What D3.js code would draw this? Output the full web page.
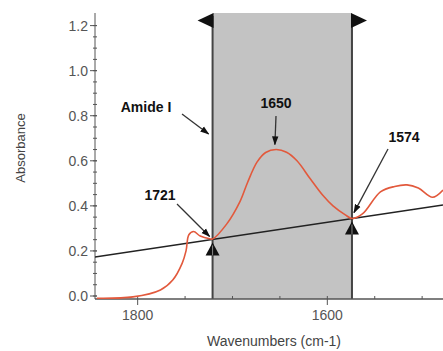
<!DOCTYPE html>
<html>
<head>
<meta charset="utf-8">
<script src="https://cdn.jsdelivr.net/npm/d3@7"></script>
<style>
  body { margin: 0; background: #fff; }
  svg { display: block; font-family: Arial, "Liberation Sans", sans-serif; }
</style>
</head>
<body>
<svg id="chart" width="443" height="351"></svg>
<script>
// spectrum
const wavenumber = [1843, 1805, 1776, 1763, 1753, 1749, 1746, 1741, 1734, 1724, 1721, 1706, 1692, 1684, 1674, 1665, 1654, 1643, 1632, 1618, 1605, 1594, 1581, 1574, 1563, 1544, 1529, 1516, 1504, 1489, 1478];
const absorbance = [-0.01, -0.004, 0.027, 0.071, 0.146, 0.2, 0.272, 0.286, 0.266, 0.254, 0.253, 0.32, 0.42, 0.505, 0.595, 0.637, 0.65, 0.638, 0.6, 0.52, 0.448, 0.4, 0.36, 0.344, 0.364, 0.462, 0.486, 0.493, 0.479, 0.438, 0.47];

// straight baseline drawn under the band
const baselineWn = [1845, 1478];
const baselineAbs = [0.173, 0.404];

const bandEdges = [1721, 1574];
const peakWn = 1650;
const yTicks = [0, 0.2, 0.4, 0.6, 0.8, 1.0, 1.2];
const xTicks = [1800, 1600];
const xMinor = [1750, 1700, 1650, 1550, 1500];

const svg = d3.select("#chart");
const pLeft = 95, pRight = 443, pTop = 13, pBottom = 299;

const x = d3.scaleLinear().domain([1845, 1478]).range([pLeft, pRight]);
const y = d3.scaleLinear().domain([0, 1.2]).range([296, 25.6]);

const baseAt = wn => baselineAbs[0] + (wn - baselineWn[0]) / (baselineWn[1] - baselineWn[0]) * (baselineAbs[1] - baselineAbs[0]);

svg.append("defs").call(defs => {
  defs.append("clipPath").attr("id", "plot")
    .append("rect").attr("x", pLeft).attr("y", pTop).attr("width", pRight - pLeft).attr("height", pBottom - pTop);
  defs.append("marker")
    .attr("id", "head")
    .attr("viewBox", "0 0 10 10")
    .attr("refX", 9).attr("refY", 5)
    .attr("markerWidth", 7).attr("markerHeight", 7)
    .attr("orient", "auto")
    .append("path").attr("d", "M0,1.5 L10,5 L0,8.5 Z").attr("fill", "#111");
});

// shaded band
svg.append("rect")
  .attr("x", x(bandEdges[0]))
  .attr("y", pTop)
  .attr("width", x(bandEdges[1]) - x(bandEdges[0]))
  .attr("height", pBottom - pTop)
  .attr("fill", "#c3c3c3");

svg.selectAll(".edge")
  .data(bandEdges)
  .enter()
  .append("line")
  .attr("x1", d => x(d)).attr("x2", d => x(d))
  .attr("y1", pTop + 3).attr("y2", pBottom)
  .attr("stroke", "#444")
  .attr("stroke-width", 2);

// top triangles
svg.append("path")
  .attr("d", `M${x(bandEdges[0]) + 1},13 L${x(bandEdges[0]) + 1},28 L${x(bandEdges[0]) - 15},20.5 Z`)
  .attr("fill", "#111");
svg.append("path")
  .attr("d", `M${x(bandEdges[1]) - 1},13 L${x(bandEdges[1]) - 1},28 L${x(bandEdges[1]) + 15},20.5 Z`)
  .attr("fill", "#111");

// axes
const gy = svg.append("g").attr("transform", `translate(${pLeft},0)`);
gy.append("line").attr("y1", pTop).attr("y2", pBottom).attr("stroke", "#555");
gy.selectAll(".minor")
  .data(d3.range(0, 1.25, 0.05))
  .enter()
  .append("line")
  .attr("x1", -2).attr("x2", 2)
  .attr("y1", d => y(d)).attr("y2", d => y(d))
  .attr("stroke", "#555");
gy.selectAll(".major")
  .data(yTicks)
  .enter()
  .append("line")
  .attr("x1", -5).attr("x2", 2)
  .attr("y1", d => y(d)).attr("y2", d => y(d))
  .attr("stroke", "#555");
gy.selectAll("text")
  .data(yTicks)
  .enter()
  .append("text")
  .attr("x", -7)
  .attr("y", d => y(d))
  .attr("dy", "0.35em")
  .attr("text-anchor", "end")
  .attr("font-size", 14)
  .attr("fill", "#555")
  .text(d3.format(".1f"));

const gx = svg.append("g").attr("transform", `translate(0,${pBottom})`);
gx.append("line").attr("x1", pLeft).attr("x2", pRight).attr("stroke", "#555").attr("stroke-width", 1.3);
gx.selectAll(".minor")
  .data(xMinor)
  .enter()
  .append("line")
  .attr("x1", d => x(d)).attr("x2", d => x(d))
  .attr("y1", -3).attr("y2", 0)
  .attr("stroke", "#555");
gx.selectAll(".major")
  .data(xTicks)
  .enter()
  .append("line")
  .attr("x1", d => x(d)).attr("x2", d => x(d))
  .attr("y1", -3).attr("y2", 6)
  .attr("stroke", "#555");
gx.selectAll("text")
  .data(xTicks)
  .enter()
  .append("text")
  .attr("x", d => x(d))
  .attr("y", 21)
  .attr("text-anchor", "middle")
  .attr("font-size", 14)
  .attr("fill", "#555")
  .text(d => d);

svg.append("text")
  .attr("x", 274).attr("y", 346)
  .attr("text-anchor", "middle")
  .attr("font-size", 14)
  .attr("fill", "#444")
  .text("Wavenumbers (cm-1)");

svg.append("text")
  .attr("transform", "translate(25,148) rotate(-90)")
  .attr("text-anchor", "middle")
  .attr("font-size", 13)
  .attr("fill", "#444")
  .text("Absorbance");

// spectrum + baseline
const plot = svg.append("g").attr("clip-path", "url(#plot)");
plot.append("line")
  .attr("x1", x(baselineWn[0])).attr("y1", y(baselineAbs[0]))
  .attr("x2", x(baselineWn[1])).attr("y2", y(baselineAbs[1]))
  .attr("stroke", "#222")
  .attr("stroke-width", 1.4);

const line = d3.line()
  .x((d, i) => x(wavenumber[i]))
  .y(d => y(d))
  .curve(d3.curveCatmullRom);
plot.append("path")
  .datum(absorbance)
  .attr("d", line)
  .attr("fill", "none")
  .attr("stroke", "#e2593c")
  .attr("stroke-width", 1.6);

// cursor triangles at the baseline points
svg.selectAll(".cursor")
  .data(bandEdges)
  .enter()
  .append("path")
  .attr("d", d => {
    const cx = x(d), cy = y(baseAt(d)) + 3;
    return `M${cx},${cy} L${cx + 7},${cy + 13} L${cx - 7},${cy + 13} Z`;
  })
  .attr("fill", "#111");
svg.selectAll(".cursorline")
  .data(bandEdges)
  .enter()
  .append("line")
  .attr("x1", d => x(d)).attr("x2", d => x(d))
  .attr("y1", d => y(baseAt(d)) + 6).attr("y2", d => y(baseAt(d)) + 16)
  .attr("stroke", "#888")
  .attr("stroke-width", 1);

// annotations
const notes = [
  {label: "Amide I", tx: 146, ty: 112, from: [182, 114], to: [x(bandEdges[0]) - 4, 134]},
  {label: "1650", tx: 276, ty: 108, from: [276, 116], to: [x(peakWn) - 5, y(0.65) - 5]},
  {label: "1574", tx: 404, ty: 142, from: [388, 149], to: [x(bandEdges[1]) + 2, y(baseAt(bandEdges[1])) - 6]},
  {label: "1721", tx: 160, ty: 200, from: [177, 204], to: [x(bandEdges[0]) - 3, y(baseAt(bandEdges[0])) - 3]}
];

svg.selectAll(".arrow")
  .data(notes)
  .enter()
  .append("line")
  .attr("x1", d => d.from[0]).attr("y1", d => d.from[1])
  .attr("x2", d => d.to[0]).attr("y2", d => d.to[1])
  .attr("stroke", "#333")
  .attr("stroke-width", 1.3)
  .attr("marker-end", "url(#head)");

svg.selectAll(".note")
  .data(notes)
  .enter()
  .append("text")
  .attr("x", d => d.tx).attr("y", d => d.ty)
  .attr("text-anchor", "middle")
  .attr("font-size", 14)
  .attr("font-weight", "bold")
  .attr("fill", "#111")
  .text(d => d.label);
</script>
</body>
</html>
